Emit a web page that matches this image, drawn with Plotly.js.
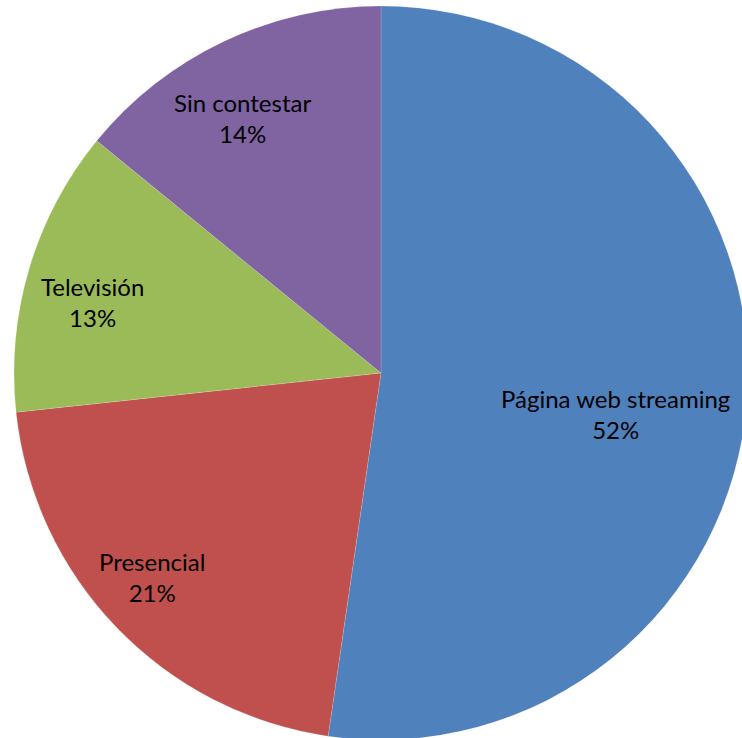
<!DOCTYPE html>
<html>
<head>
<meta charset="utf-8">
<script src="https://cdn.plot.ly/plotly-3.0.1.min.js"></script>
<style>
html,body{margin:0;padding:0;overflow:hidden;background:#fff;}
#chart{width:760px;height:760px;}
</style>
</head>
<body>
<div id="chart"></div>
<script>
var categories = ["Página web streaming", "Presencial", "Televisión", "Sin contestar"];
var values = [52.3, 21.0, 12.6, 14.1];
var colors = ["#4F81BD", "#C0504D", "#9BBB59", "#8064A2"];

// label placement style: radial fraction and angular nudge (degrees) per slice
var labelRadius = [0.651, 0.841, 0.809, 0.784];
var labelNudge = [6.4, 1.8, -3.3, -3.3];

var total = values.reduce(function(a, b){ return a + b; }, 0);
var annotations = [];
var cum = 0;
for (var i = 0; i < values.length; i++) {
  var mid = (cum + values[i] / 2) / total * 360 + labelNudge[i];
  cum += values[i];
  var a = mid * Math.PI / 180;
  var r = 0.5 * labelRadius[i];
  var pct = Math.round(values[i] / total * 100);
  annotations.push({
    xref: "paper", yref: "paper",
    x: 0.5 + r * Math.sin(a),
    y: 0.5 + r * Math.cos(a),
    xanchor: "center", yanchor: "middle",
    yshift: 3,
    text: categories[i] + "<br>" + pct + "%",
    showarrow: false,
    align: "center",
    font: {family: "Lato, 'Open Sans', sans-serif", size: 24, color: "#000"}
  });
}

var trace = {
  type: "pie",
  labels: categories,
  values: values,
  sort: false,
  direction: "clockwise",
  rotation: 0,
  marker: {colors: colors, line: {color: "rgba(255,255,255,0.3)", width: 0.5}},
  textinfo: "none",
  hoverinfo: "none",
  showlegend: false
};

var layout = {
  width: 760,
  height: 760,
  margin: {l: 14, t: 6, r: 12, b: 20},
  paper_bgcolor: "#fff",
  showlegend: false,
  annotations: annotations
};

Plotly.newPlot("chart", [trace], layout, {displayModeBar: false, staticPlot: true});
</script>
</body>
</html>
